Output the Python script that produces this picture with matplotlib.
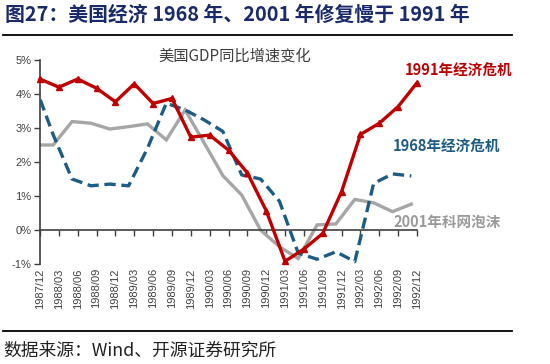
import numpy as np
import matplotlib
matplotlib.use("Agg")
import matplotlib.pyplot as plt
from matplotlib.lines import Line2D

# ---- data ----
dates = ["1987/12", "1988/03", "1988/06", "1988/09", "1988/12", "1989/03", "1989/06",
         "1989/09", "1989/12", "1990/03", "1990/06", "1990/09", "1990/12", "1991/03",
         "1991/06", "1991/09", "1991/12", "1992/03", "1992/06", "1992/09", "1992/12"]
crisis_1991 = [4.44, 4.20, 4.44, 4.17, 3.77, 4.30, 3.72, 3.87, 2.73, 2.79, 2.35,
               1.68, 0.57, -0.92, -0.56, -0.10, 1.13, 2.81, 3.14, 3.63, 4.33]
crisis_1968 = [4.30, 2.80, 1.50, 1.30, 1.35, 1.30, 2.40, 3.73, 3.53, 3.24, 2.90,
               1.62, 1.50, 0.85, -0.68, -0.86, -0.64, -0.93, 1.37, 1.65, 1.59]
bubble_2001 = [2.50, 2.50, 3.19, 3.14, 2.97, 3.04, 3.12, 2.65, 3.53, 2.57, 1.60,
               1.03, 0.00, -0.49, -0.84, 0.15, 0.18, 0.90, 0.80, 0.54, 0.76]
yticks = [-1, 0, 1, 2, 3, 4, 5]
ytick_labels = ["-1%", "0%", "1%", "2%", "3%", "4%", "5%"]

RED = "#C00000"
BLUE = "#1D5C84"
GRAY = "#A6A6A6"
NAVY = "#1A2B6B"

W, H = 550, 364
fig = plt.figure(figsize=(W / 100, H / 100), dpi=100)
fig.patch.set_facecolor("white")

cjk = ["Noto Sans CJK SC", "DejaVu Sans"]

ax = fig.add_axes([40 / W, 1 - 264 / H, (417 - 40) / W, (264 - 60) / H])
x = np.arange(len(dates))
x_shift = x - 0.3  # 1968 and 2001 series sit slightly left of category ticks

ax.plot(x_shift, bubble_2001, color=GRAY, lw=2.4, solid_joinstyle="miter", zorder=2)
ax.plot(x_shift, crisis_1968, color=BLUE, lw=2.4, ls=(0, (3.4, 1.7)), zorder=3)
ax.plot(x, crisis_1991, color=RED, lw=2.4, marker="^", ms=5, mfc=RED, mec=RED,
        clip_on=False, zorder=4)

ax.set_xlim(0, 20)
ax.set_ylim(-1, 5)
ax.set_yticks(yticks)
ax.set_yticklabels(ytick_labels, fontsize=8, color="#404040", family="Liberation Sans")
ax.tick_params(axis="y", direction="out", length=4, width=1, color="#404040", pad=2)

for s in ["top", "right"]:
    ax.spines[s].set_visible(False)
ax.spines["left"].set_color("#404040")
ax.spines["left"].set_linewidth(1.2)
ax.spines["bottom"].set_position(("data", 0))
ax.spines["bottom"].set_color("#404040")
ax.spines["bottom"].set_linewidth(1.2)
ax.set_xticks(x)
ax.tick_params(axis="x", direction="out", length=4, width=1, color="#404040",
               labelbottom=False)

sec = ax.secondary_xaxis("bottom")
sec.set_xticks(x)
sec.set_xticklabels(dates, rotation=90, fontsize=8, color="#404040",
                    family="Liberation Sans")
sec.tick_params(length=0, pad=3)
sec.spines["bottom"].set_visible(False)

# titles and labels
fig.text(5 / W, 1 - 14 / H, "图27：美国经济 1968 年、2001 年修复慢于 1991 年",
         fontsize=14.3, fontweight="bold", color=NAVY, family=cjk, va="center", ha="left")
fig.add_artist(Line2D([3 / W, 512 / W], [1 - 35 / H] * 2, color="black", lw=1.3))
fig.add_artist(Line2D([3 / W, 512 / W], [1 - 331 / H] * 2, color="black", lw=1.3))
fig.text(3 / W, 1 - 351 / H, "数据来源：Wind、开源证券研究所", fontsize=12.8,
         color="#222222", family=cjk, va="center", ha="left")

fig.text(235 / W, 1 - 56 / H, "美国GDP同比增速变化", fontsize=11, color="#404040",
         family=cjk, va="center", ha="center")
fig.text(405 / W, 1 - 71 / H, "1991年经济危机", fontsize=10.5, fontweight="bold",
         color=RED, family=cjk, va="center", ha="left")
fig.text(393 / W, 1 - 147 / H, "1968年经济危机", fontsize=10.5, fontweight="bold",
         color=BLUE, family=cjk, va="center", ha="left")
fig.text(393 / W, 1 - 222 / H, "2001年科网泡沫", fontsize=10.5, fontweight="bold",
         color="#9A9A9A", family=cjk, va="center", ha="left")

fig.savefig("out.png", dpi=100, facecolor="white")
